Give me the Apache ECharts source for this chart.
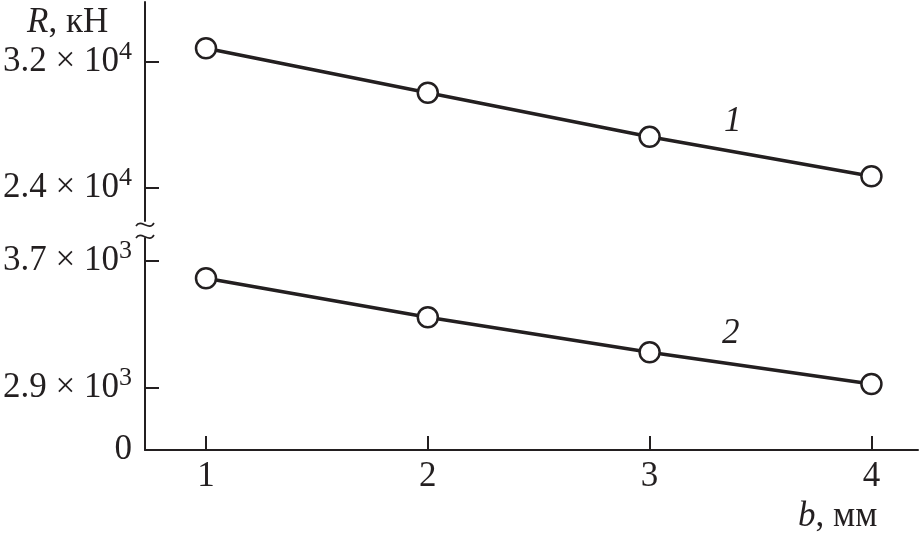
<!DOCTYPE html>
<html>
<head>
<meta charset="utf-8">
<script src="https://cdn.jsdelivr.net/npm/echarts@6/dist/echarts.min.js"></script>
<style>
  html, body { margin: 0; padding: 0; background: #fff; }
  #chart { width: 920px; height: 536px; }
</style>
</head>
<body>
<div id="chart"></div>
<script>
// b, мм
const bValues = [1, 2, 3, 4]
// curve 1, R (кН)
const r1 = [32870, 30050, 27250, 24750]
// curve 2, R (кН)
const r2 = [3590, 3345, 3125, 2925]
// tick values
const xTicks = [1, 2, 3, 4]
const topTicks = [24000, 32000]
const bottomTicks = [2900, 3700]

const ink = '#231f20'
const font = 'Liberation Serif'
const fs = 35

// broken axis ranges
const topMin = 21905, topMax = 35810
const botMin = 2510, botMax = 3843

const sciLabel = v => {
  if (v === botMin) return '{z|0}'
  const e = Math.floor(Math.log10(v))
  const m = (v / Math.pow(10, e)).toFixed(1)
  return '{n|' + m + ' × 10}{s|' + e + '}'
}

const labelRich = {
  n: { fontFamily: font, fontSize: fs, color: ink, lineHeight: 46 },
  z: { fontFamily: font, fontSize: fs, color: ink, lineHeight: 36 },
  s: { fontFamily: font, fontSize: 26, color: ink, verticalAlign: 'top', lineHeight: 30 }
}

const axisLine = { show: true, lineStyle: { color: ink, width: 2 } }
const tick = { show: true, inside: true, length: 14, lineStyle: { color: ink, width: 2 } }

const chart = echarts.init(document.getElementById('chart'))

const option = {
  animation: false,
  backgroundColor: '#fff',
  title: [
    {
      text: '{i|R}{t|, кН}',
      left: 22, top: 0,
      textStyle: {
        rich: {
          i: { fontFamily: font, fontStyle: 'italic', fontWeight: 'normal', fontSize: fs, color: ink },
          t: { fontFamily: font, fontWeight: 'normal', fontSize: fs, color: ink }
        }
      }
    },
    {
      text: '{i|b}{t|, мм}',
      left: 793, top: 494,
      textStyle: {
        rich: {
          i: { fontFamily: font, fontStyle: 'italic', fontWeight: 'normal', fontSize: fs, color: ink },
          t: { fontFamily: font, fontWeight: 'normal', fontSize: fs, color: ink }
        }
      }
    }
  ],
  grid: [
    { left: 145, right: 2, top: 2, height: 219 },
    { left: 145, right: 2, top: 238, bottom: 86 }
  ],
  xAxis: [
    { type: 'value', gridIndex: 0, min: 0.725, max: 4.21, show: false },
    {
      type: 'value', gridIndex: 1, min: 0.725, max: 4.21,
      axisLine: axisLine,
      axisTick: Object.assign({ customValues: xTicks }, tick),
      axisLabel: { customValues: xTicks, fontFamily: font, fontSize: fs, color: ink, margin: 9 },
      splitLine: { show: false }
    }
  ],
  yAxis: [
    {
      type: 'value', gridIndex: 0, min: topMin, max: topMax,
      axisLine: axisLine,
      axisTick: Object.assign({ customValues: topTicks }, tick),
      axisLabel: { customValues: topTicks, formatter: sciLabel, rich: labelRich, margin: 13 },
      splitLine: { show: false }
    },
    {
      type: 'value', gridIndex: 1, min: botMin, max: botMax,
      axisLine: axisLine,
      axisTick: Object.assign({ customValues: bottomTicks }, tick),
      axisLabel: { customValues: [botMin].concat(bottomTicks), formatter: sciLabel, rich: labelRich, margin: 13 },
      splitLine: { show: false }
    }
  ],
  series: [
    {
      name: '1', type: 'line', xAxisIndex: 0, yAxisIndex: 0,
      data: bValues.map((b, i) => [b, r1[i]]),
      symbol: 'circle', symbolSize: 20,
      lineStyle: { color: ink, width: 3.5 },
      itemStyle: { color: '#fff', borderColor: ink, borderWidth: 2.5 },
      z: 3
    },
    {
      name: '2', type: 'line', xAxisIndex: 1, yAxisIndex: 1,
      data: bValues.map((b, i) => [b, r2[i]]),
      symbol: 'circle', symbolSize: 20,
      lineStyle: { color: ink, width: 3.5 },
      itemStyle: { color: '#fff', borderColor: ink, borderWidth: 2.5 },
      z: 3
    }
  ],
  graphic: [
    // curve numbers
    { type: 'text', left: 724, top: 104, style: { text: '1', fontFamily: font, fontStyle: 'italic', fontSize: fs, fill: ink } },
    { type: 'text', left: 722, top: 316, style: { text: '2', fontFamily: font, fontStyle: 'italic', fontSize: fs, fill: ink } },
    // axis break marks
    { type: 'bezierCurve', shape: { x1: 136, y1: 226, cpx1: 141, cpy1: 218, cpx2: 149, cpy2: 232, x2: 154, y2: 223 }, style: { stroke: ink, lineWidth: 1.6, fill: null } },
    { type: 'bezierCurve', shape: { x1: 136, y1: 238, cpx1: 141, cpy1: 230, cpx2: 149, cpy2: 244, x2: 154, y2: 235 }, style: { stroke: ink, lineWidth: 1.6, fill: null } }
  ]
}

chart.setOption(option)
</script>
</body>
</html>
